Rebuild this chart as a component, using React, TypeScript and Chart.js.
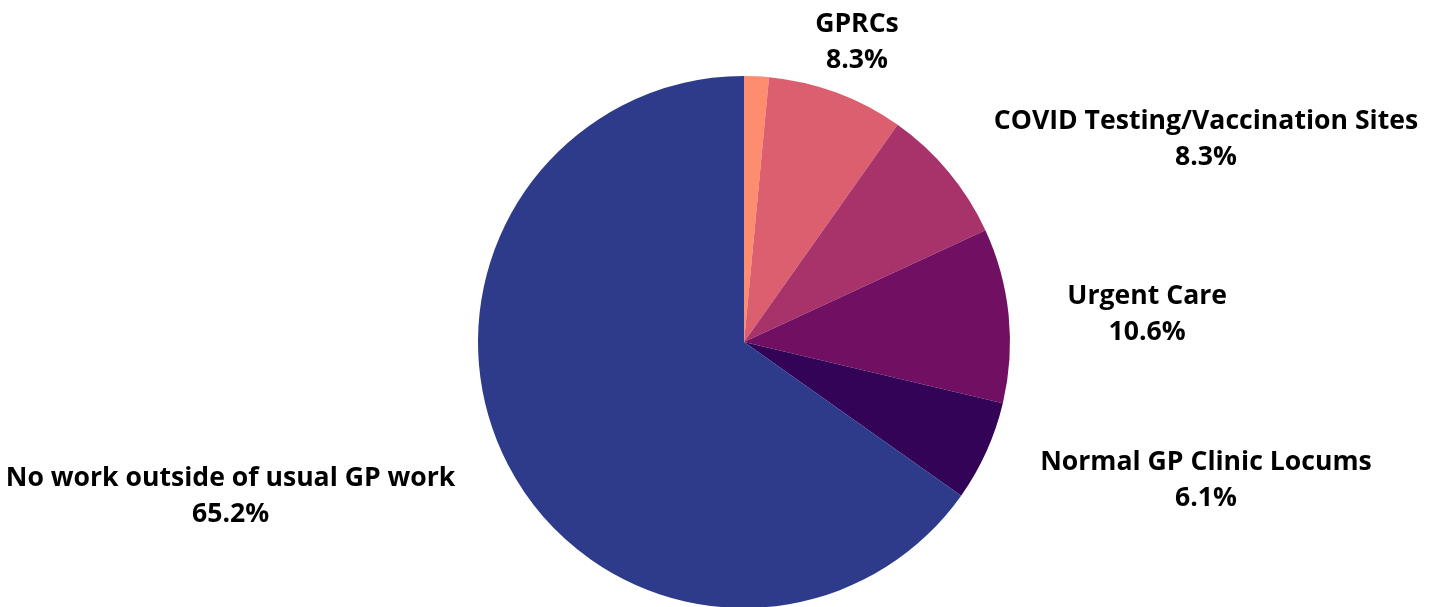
import React, { useEffect, useRef } from "react";
import { Chart, registerables } from "chart.js";

Chart.register(...registerables);

const categories = [
  "Other",
  "GPRCs",
  "COVID Testing/Vaccination Sites",
  "Urgent Care",
  "Normal GP Clinic Locums",
  "No work outside of usual GP work",
];
const values = [1.5, 8.3, 8.3, 10.6, 6.1, 65.2];
const showLabel = [false, true, true, true, true, true];
const colors = ["#FE8C6F", "#DC5F6F", "#A7336A", "#711063", "#320356", "#2E3A8A"];

const labelPlugin = {
  id: "outsideLabels",
  afterDatasetsDraw(chart: any) {
    const ctx = chart.ctx;
    const meta = chart.getDatasetMeta(0);
    ctx.save();
    ctx.font = "bold 26.6px 'Open Sans'";
    ctx.fillStyle = "#000";
    ctx.textAlign = "center";
    ctx.textBaseline = "middle";
    meta.data.forEach((arc: any, i: number) => {
      if (!showLabel[i]) return;
      const { x, y, startAngle, endAngle, outerRadius } = arc.getProps(
        ["x", "y", "startAngle", "endAngle", "outerRadius"],
        true
      );
      const mid = (startAngle + endAngle) / 2;
      const R = outerRadius + 59;
      const px = x + Math.cos(mid) * R;
      const py = y + Math.sin(mid) * R;
      const lines = [categories[i], values[i].toFixed(1) + "%"];
      const w = Math.max(...lines.map((l) => ctx.measureText(l).width));
      const c = Math.cos(mid);
      const k = Math.max(0, Math.min(1, (Math.abs(c) - 0.35) / 0.35));
      const cx = px + Math.sign(c) * (w / 2) * k;
      const lh = 36;
      const cy = py + 5;
      ctx.fillText(lines[0], cx, cy - lh / 2);
      ctx.fillText(lines[1], cx, cy + lh / 2);
    });
    ctx.restore();
  },
};

export default function App() {
  const ref = useRef<HTMLCanvasElement>(null);
  useEffect(() => {
    if (!ref.current) return;
    const chart = new Chart(ref.current, {
      type: "pie",
      data: {
        labels: categories,
        datasets: [
          {
            data: values,
            backgroundColor: colors,
            borderColor: "#ffffff",
            borderWidth: 0,
          },
        ],
      },
      options: {
        animation: false,
        responsive: false,
        maintainAspectRatio: false,
        layout: { padding: { left: 478, right: 426, top: 76, bottom: 32 } },
        plugins: {
          legend: { display: false },
          tooltip: { enabled: false },
        },
      },
      plugins: [labelPlugin],
    });
    return () => chart.destroy();
  }, []);
  return (
    <div
      style={{
        position: "fixed",
        left: 0,
        top: 0,
        width: 1436,
        height: 607,
        overflow: "hidden",
        background: "#fff",
      }}
    >
      <canvas
        ref={ref}
        width={1436}
        height={640}
        style={{ display: "block", width: 1436, height: 640 }}
      />
    </div>
  );
}
